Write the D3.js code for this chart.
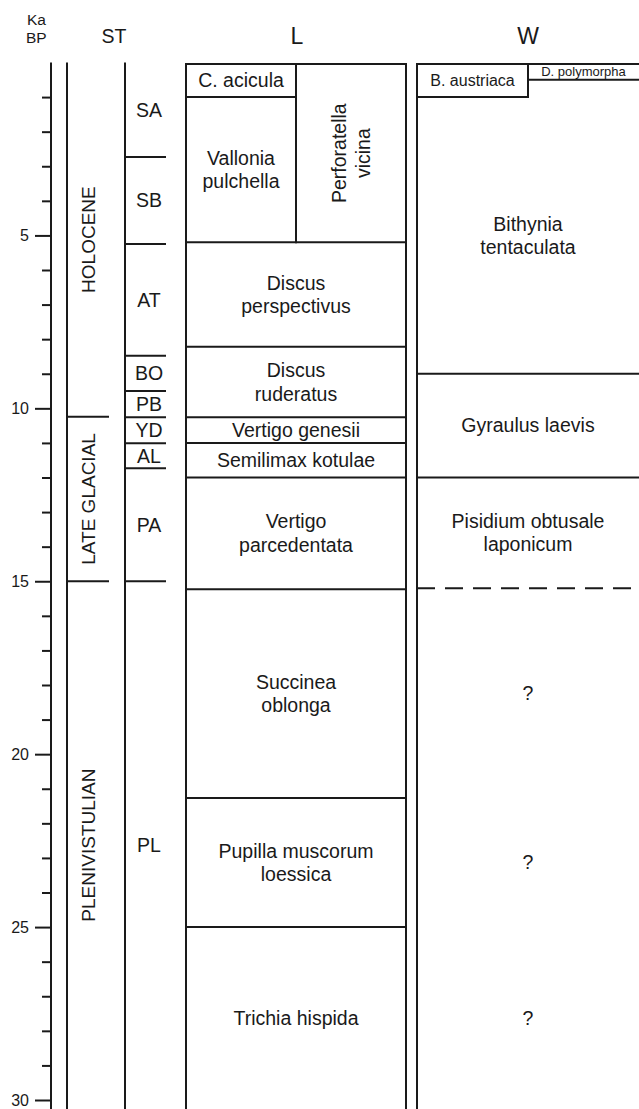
<!DOCTYPE html>
<html lang="en">
<head>
<meta charset="utf-8">
<title>Mollusc zones</title>
<style>
  html, body {margin: 0; padding: 0; background: #fff;}
  svg {display: block; font-family: "Liberation Sans", Arial, Helvetica, sans-serif;}
  .ln {stroke: #1a1a1a; stroke-width: 2; fill: none;}
  text {fill: #1a1a1a;}
</style>
</head>
<body>
<div id="chart"></div>
<script src="https://cdnjs.cloudflare.com/ajax/libs/d3/7.8.5/d3.min.js"></script>
<script>
  // ka BP ticks
  var majorTicks = [5, 10, 15, 20, 25, 30];
  var minorTicks = d3.range(1, 30).filter(function (t) { return t % 5 !== 0; });

  // chronostratigraphy (ka BP)
  var epochs = [
    {name: 'HOLOCENE', top: 0, base: 10.24},
    {name: 'LATE GLACIAL', top: 10.24, base: 15},
    {name: 'PLENIVISTULIAN', top: 15, base: 30.3}
  ];

  var stages = [
    {name: 'SA', top: 0, base: 2.73},
    {name: 'SB', top: 2.73, base: 5.25},
    {name: 'AT', top: 5.25, base: 8.48},
    {name: 'BO', top: 8.48, base: 9.5},
    {name: 'PB', top: 9.5, base: 10.26},
    {name: 'YD', top: 10.26, base: 11.01},
    {name: 'AL', top: 11.01, base: 11.73},
    {name: 'PA', top: 11.73, base: 15},
    {name: 'PL', top: 15, base: 30.3}
  ];

  // land snail zones, lane: a = left half, b = right half, all = full width
  var landZones = [
    {name: 'C. acicula', top: 0, base: 1, lane: 'a', edge: 'solid'},
    {name: 'Vallonia\npulchella', top: 1, base: 5.2, lane: 'a', edge: 'solid'},
    {name: 'Perforatella\nvicina', top: 0, base: 5.2, lane: 'b', edge: 'solid'},
    {name: 'Discus\nperspectivus', top: 5.2, base: 8.22, lane: 'all', edge: 'solid'},
    {name: 'Discus\nruderatus', top: 8.22, base: 10.26, lane: 'all', edge: 'solid'},
    {name: 'Vertigo genesii', top: 10.26, base: 11.0, lane: 'all', edge: 'solid'},
    {name: 'Semilimax kotulae', top: 11.0, base: 12.0, lane: 'all', edge: 'solid'},
    {name: 'Vertigo\nparcedentata', top: 12.0, base: 15.23, lane: 'all', edge: 'solid'},
    {name: 'Succinea\noblonga', top: 15.23, base: 21.27, lane: 'all', edge: 'solid'},
    {name: 'Pupilla muscorum\nloessica', top: 21.27, base: 25.0, lane: 'all', edge: 'solid'},
    {name: 'Trichia hispida', top: 25.0, base: 30.3, lane: 'all', edge: 'none'}
  ];

  // water snail zones
  var waterZones = [
    {name: 'B. austriaca', top: 0, base: 1, lane: 'a', edge: 'solid'},
    {name: 'D. polymorpha', top: 0, base: 0.5, lane: 'b', edge: 'solid'},
    {name: 'Bithynia\ntentaculata', top: 1, base: 9, lane: 'all', edge: 'solid'},
    {name: 'Gyraulus laevis', top: 9, base: 12, lane: 'all', edge: 'solid'},
    {name: 'Pisidium obtusale\nlaponicum', top: 12, base: 15.2, lane: 'all', edge: 'dashed'},
    {name: '?', top: 15.2, base: 21.27, lane: 'all', edge: 'none'},
    {name: '?', top: 21.27, base: 25.0, lane: 'all', edge: 'none'},
    {name: '?', top: 25.0, base: 30.3, lane: 'all', edge: 'none'}
  ];

  var W = 639, H = 1109;
  var svg = d3.select('#chart').append('svg').attr('width', W).attr('height', H);

  var y = d3.scaleLinear().domain([0, 30]).range([62.5, 1100]);
  var yTop = y(0), yEnd = H;

  var axisX = 51, epochX = 67, epochR = 109, stageX = 125, stageR = 166;
  var cols = {
    L: {x0: 186, x1: 406},
    W: {x0: 417, x1: 639}
  };

  var rotated = {'Perforatella\nvicina': true};
  var labelSize = {'B. austriaca': 16, 'D. polymorpha': 13};
  var baseSize = 19.5;

  function line(x1, y1, x2, y2, dashed) {
    var l = svg.append('line').attr('class', 'ln')
      .attr('x1', x1).attr('y1', y1).attr('x2', x2).attr('y2', y2);
    if (dashed) l.attr('stroke-dasharray', '18,10');
    return l;
  }

  function label(text, cx, cy, size, rotate) {
    var lines = text.split('\n'), lh = size * 1.2;
    var t = svg.append('text')
      .attr('text-anchor', 'middle')
      .style('font-size', size + 'px')
      .attr('transform', 'translate(' + cx + ',' + cy + ')' + (rotate ? ' rotate(-90)' : ''));
    lines.forEach(function (s, i) {
      t.append('tspan').attr('x', 0)
        .attr('y', (i - (lines.length - 1) / 2) * lh + size * 0.35)
        .text(s);
    });
  }

  // header
  svg.append('text').attr('x', 27).attr('y', 25).style('font-size', '15.5px').text('Ka');
  svg.append('text').attr('x', 26).attr('y', 42.5).style('font-size', '15.5px').text('BP');
  svg.append('text').attr('x', 114).attr('y', 43).attr('text-anchor', 'middle').style('font-size', '19.5px').text('ST');
  svg.append('text').attr('x', 297).attr('y', 44).attr('text-anchor', 'middle').style('font-size', '23px').text('L');
  svg.append('text').attr('x', 528).attr('y', 44).attr('text-anchor', 'middle').style('font-size', '23px').text('W');

  // age axis
  var gAxis = svg.append('g').attr('transform', 'translate(' + axisX + ',0)');
  gAxis.call(d3.axisLeft(y).tickValues(majorTicks).tickSize(16).tickPadding(6).tickSizeOuter(0));
  gAxis.append('g').call(d3.axisLeft(y).tickValues(minorTicks).tickSize(9).tickFormat('').tickSizeOuter(0));
  gAxis.selectAll('.domain').remove();
  gAxis.selectAll('.tick line').attr('stroke', '#1a1a1a').attr('stroke-width', 2);
  gAxis.selectAll('.tick text').attr('fill', '#1a1a1a').style('font-size', '16px')
    .style('font-family', '"Liberation Sans", Arial, sans-serif');
  line(axisX, yTop, axisX, yEnd);

  // epochs
  line(epochX, yTop, epochX, yEnd);
  epochs.forEach(function (d, i) {
    if (i < epochs.length - 1) line(epochX, y(d.base), epochR, y(d.base));
    label(d.name, (epochX + epochR) / 2, (y(d.top) + y(Math.min(d.base, 30.26))) / 2, 19, true);
  });

  // stages
  line(stageX, yTop, stageX, yEnd);
  stages.forEach(function (d, i) {
    if (i < stages.length - 1) line(stageX, y(d.base), stageR, y(d.base));
    label(d.name, 149, (y(d.top) + y(Math.min(d.base, 30.26))) / 2, 19.5, false);
  });

  // zone columns
  function drawColumn(c, zones) {
    var mid = (c.x0 + c.x1) / 2, top = yTop + 1.5;
    line(c.x0, top, c.x0, yEnd);
    if (c.x1 < W) line(c.x1, top, c.x1, yEnd);
    line(c.x0 - 1, top, c.x1 + 1, top);
    zones.forEach(function (d) {
      var xa = d.lane === 'b' ? mid : c.x0;
      var xb = d.lane === 'a' ? mid : c.x1;
      var yb = y(d.base);
      if (d.edge !== 'none') line(xa, yb, xb, yb, d.edge === 'dashed');
      if (d.lane === 'a') line(mid, top, mid, yb + 1);
      var y0 = Math.max(y(d.top), top), y1 = Math.min(yb, yEnd);
      label(d.name, (xa + xb) / 2, (y0 + y1) / 2, labelSize[d.name] || baseSize, !!rotated[d.name]);
    });
  }
  drawColumn(cols.L, landZones);
  drawColumn(cols.W, waterZones);
</script>
</body>
</html>
